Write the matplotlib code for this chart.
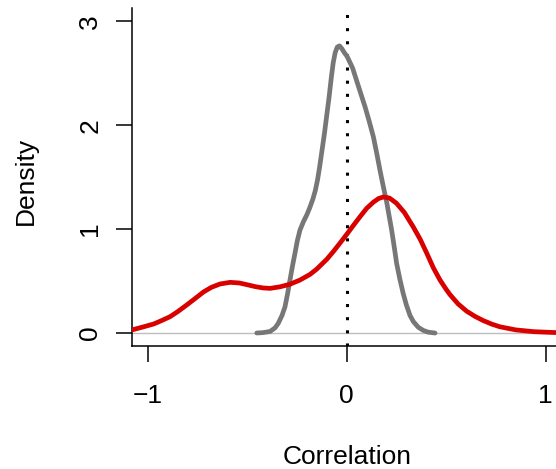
import matplotlib
matplotlib.use('Agg')
import matplotlib.pyplot as plt

plt.rcParams['font.family'] = ['Liberation Sans', 'DejaVu Sans']

# density of the null correlations (grey)
null_x = [-0.452, -0.42, -0.385, -0.36, -0.344, -0.325, -0.310, -0.297, -0.285,
          -0.272, -0.260, -0.248, -0.235, -0.218, -0.200, -0.185, -0.170, -0.158,
          -0.147, -0.136, -0.124, -0.112, -0.100, -0.088, -0.078, -0.068, -0.058,
          -0.047, -0.036, -0.025, -0.012, 0.000, 0.008, 0.030, 0.050, 0.070, 0.092,
          0.113, 0.134, 0.150, 0.167, 0.184, 0.201, 0.214, 0.226, 0.238, 0.251,
          0.267, 0.284, 0.300, 0.318, 0.335, 0.360, 0.385, 0.410, 0.444]
null_y = [0.0, 0.004, 0.015, 0.05, 0.093, 0.17, 0.253, 0.38, 0.511,
          0.65, 0.768, 0.89, 0.99, 1.07, 1.14, 1.21, 1.29, 1.37,
          1.47, 1.60, 1.76, 1.92, 2.10, 2.28, 2.45, 2.60, 2.70,
          2.755, 2.765, 2.74, 2.70, 2.67, 2.64, 2.55, 2.43, 2.31, 2.18,
          2.04, 1.89, 1.74, 1.57, 1.41, 1.26, 1.12, 0.99, 0.84, 0.67,
          0.52, 0.38, 0.27, 0.17, 0.11, 0.055, 0.025, 0.008, 0.0]

# density of the observed correlations (red)
obs_x = [-1.079, -1.03, -0.97, -0.93, -0.888, -0.85, -0.804, -0.76, -0.72, -0.68,
         -0.637, -0.586, -0.54, -0.50, -0.46, -0.42, -0.385, -0.335, -0.285, -0.235,
         -0.184, -0.151, -0.10, -0.067, -0.03, 0.0, 0.035, 0.067, 0.10, 0.134,
         0.16, 0.184, 0.215, 0.25, 0.29, 0.335, 0.37, 0.402, 0.435, 0.469,
         0.50, 0.519, 0.56, 0.603, 0.645, 0.686, 0.73, 0.77, 0.85, 0.94,
         1.04, 1.08]
obs_y = [0.03, 0.055, 0.087, 0.12, 0.157, 0.205, 0.27, 0.335, 0.395, 0.44,
         0.472, 0.488, 0.482, 0.465, 0.447, 0.434, 0.43, 0.445, 0.47, 0.51,
         0.565, 0.615, 0.71, 0.785, 0.875, 0.95, 1.04, 1.12, 1.20, 1.26,
         1.295, 1.31, 1.30, 1.25, 1.16, 1.02, 0.90, 0.77, 0.63, 0.51,
         0.42, 0.37, 0.28, 0.21, 0.16, 0.12, 0.085, 0.06, 0.03, 0.013,
         0.005, 0.003]

x_ticks = [-1, 0, 1]
y_ticks = [0, 1, 2, 3]

fig = plt.figure(figsize=(5.56, 4.69), dpi=100)
ax = fig.add_axes([132 / 556, 123 / 469, 429.4 / 556, 338 / 469])

ax.axhline(0, color='#bebebe', lw=1.0, zorder=1)
ax.axvline(0, color='black', lw=2.2, linestyle=(0, (1, 3.3)), zorder=2)
ax.plot(null_x, null_y, color='#777777', lw=3.4, solid_capstyle='round',
        solid_joinstyle='round', zorder=3)
ax.plot(obs_x, obs_y, color='#d90000', lw=3.4, solid_capstyle='round',
        solid_joinstyle='round', zorder=4)

ax.set_xlim(-1.079, 1.079)
ax.set_ylim(-0.125, 3.13)

for s in ['top', 'right']:
    ax.spines[s].set_visible(False)
for s in ['left', 'bottom']:
    ax.spines[s].set_linewidth(1.1)

ax.set_xticks(x_ticks)
ax.set_yticks(y_ticks)
ax.tick_params(axis='both', length=11.5, width=1.1, labelsize=19)
ax.tick_params(axis='x', pad=16)
ax.tick_params(axis='y', pad=10, labelrotation=90)
for lab in ax.get_yticklabels():
    lab.set_va('center')

ax.set_xlabel('Correlation', fontsize=19, va='baseline')
ax.xaxis.set_label_coords(0.5, -0.348)
ax.set_ylabel('Density', fontsize=19, va='baseline')
ax.yaxis.set_label_coords(-0.232, 0.487)

fig.savefig('out.png', dpi=100)
